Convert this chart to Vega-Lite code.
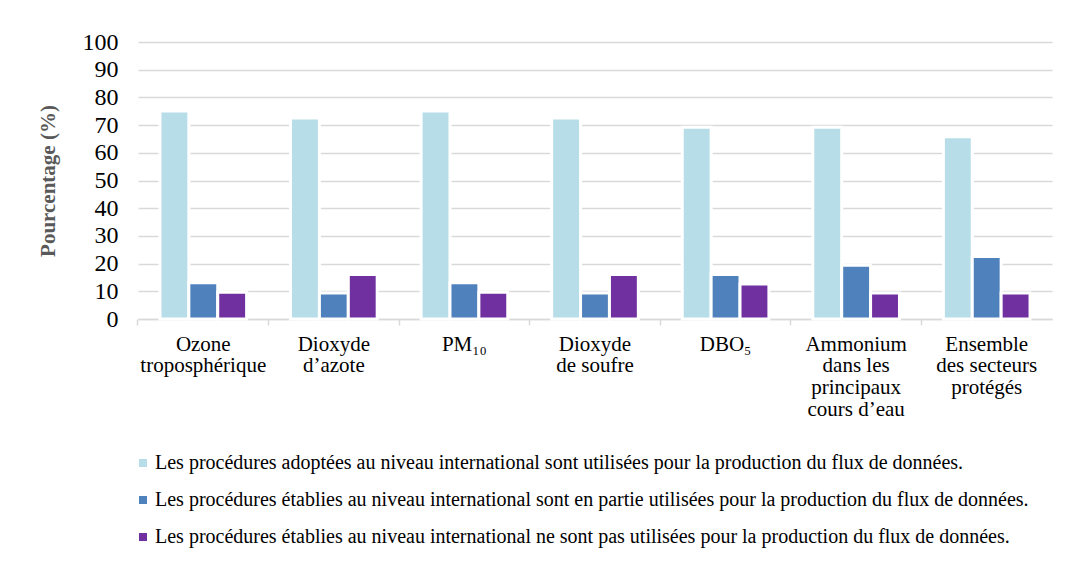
{
  "$schema": "https://vega.github.io/schema/vega-lite/v6.json",
  "autosize": "none",
  "width": 914,
  "height": 277,
  "padding": {"left": 138, "top": 42, "right": 27, "bottom": 249},
  "background": "white",
  "config": {
    "view": {"stroke": null},
    "font": "Liberation Serif"
  },
  "data": {
    "values": [
      {"cat": "Ozone|troposphérique", "serie": "A", "val": 75.1},
      {"cat": "Ozone|troposphérique", "serie": "B", "val": 13.1},
      {"cat": "Ozone|troposphérique", "serie": "C", "val": 9.7},
      {"cat": "Dioxyde|d’azote", "serie": "A", "val": 72.6},
      {"cat": "Dioxyde|d’azote", "serie": "B", "val": 9.4},
      {"cat": "Dioxyde|d’azote", "serie": "C", "val": 16.1},
      {"cat": "PM₁₀", "serie": "A", "val": 75.1},
      {"cat": "PM₁₀", "serie": "B", "val": 13.1},
      {"cat": "PM₁₀", "serie": "C", "val": 9.7},
      {"cat": "Dioxyde|de soufre", "serie": "A", "val": 72.6},
      {"cat": "Dioxyde|de soufre", "serie": "B", "val": 9.4},
      {"cat": "Dioxyde|de soufre", "serie": "C", "val": 16.1},
      {"cat": "DBO₅", "serie": "A", "val": 69.2},
      {"cat": "DBO₅", "serie": "B", "val": 16.1},
      {"cat": "DBO₅", "serie": "C", "val": 12.6},
      {"cat": "Ammonium|dans les|principaux|cours d’eau", "serie": "A", "val": 69.2},
      {"cat": "Ammonium|dans les|principaux|cours d’eau", "serie": "B", "val": 19.4},
      {"cat": "Ammonium|dans les|principaux|cours d’eau", "serie": "C", "val": 9.4},
      {"cat": "Ensemble|des secteurs|protégés", "serie": "A", "val": 65.8},
      {"cat": "Ensemble|des secteurs|protégés", "serie": "B", "val": 22.6},
      {"cat": "Ensemble|des secteurs|protégés", "serie": "C", "val": 9.4}
    ]
  },
  "mark": {"type": "bar", "stroke": "white", "strokeWidth": 3},
  "encoding": {
    "x": {
      "field": "cat",
      "type": "nominal",
      "sort": null,
      "scale": {"paddingInner": 0, "paddingOuter": 0},
      "axis": {
        "title": null,
        "labelAngle": 0,
        "labelExpr": "split(datum.label, '|')",
        "labelFont": "Liberation Serif",
        "labelFontSize": 21,
        "labelColor": "black",
        "labelLineHeight": 21.7,
        "labelBaseline": "top",
        "labelPadding": 8,
        "labelLimit": 200,
        "bandPosition": 0,
        "tickSize": 6,
        "tickColor": "#d9d9d9",
        "tickWidth": 1.5,
        "domainColor": "#d9d9d9",
        "domainWidth": 1.5,
        "grid": false
      }
    },
    "xOffset": {
      "field": "serie",
      "type": "nominal",
      "sort": ["A", "B", "C"],
      "scale": {"paddingInner": 0, "paddingOuter": 0.76}
    },
    "y": {
      "field": "val",
      "type": "quantitative",
      "scale": {"domain": [0, 100]},
      "axis": {
        "title": "Pourcentage (%)",
        "titleFont": "Liberation Serif",
        "titleFontSize": 21,
        "titleFontWeight": "bold",
        "titleColor": "#595959",
        "titlePadding": 24,
        "values": [0, 10, 20, 30, 40, 50, 60, 70, 80, 90, 100],
        "labelFont": "Liberation Serif",
        "labelFontSize": 24,
        "labelColor": "black",
        "labelPadding": 20,
        "ticks": false,
        "domain": false,
        "grid": true,
        "gridColor": "#d9d9d9",
        "gridWidth": 1.5
      }
    },
    "color": {
      "field": "serie",
      "type": "nominal",
      "scale": {"domain": ["A", "B", "C"], "range": ["#b7dde8", "#4f81bd", "#7030a0"]},
      "legend": {
        "title": null,
        "orient": "none",
        "legendX": -5,
        "legendY": 411,
        "direction": "vertical",
        "symbolType": "square",
        "symbolSize": 64,
        "symbolStrokeWidth": 0,
        "labelFont": "Liberation Serif",
        "labelFontSize": 20,
        "labelColor": "black",
        "labelLimit": 1200,
        "labelOffset": 2,
        "rowPadding": 17,
        "labelExpr": "datum.value == 'A' ? 'Les procédures adoptées au niveau international sont utilisées pour la production du flux de données.' : datum.value == 'B' ? 'Les procédures établies au niveau international sont en partie utilisées pour la production du flux de données.' : 'Les procédures établies au niveau international ne sont pas utilisées pour la production du flux de données.'"
      }
    }
  }
}
